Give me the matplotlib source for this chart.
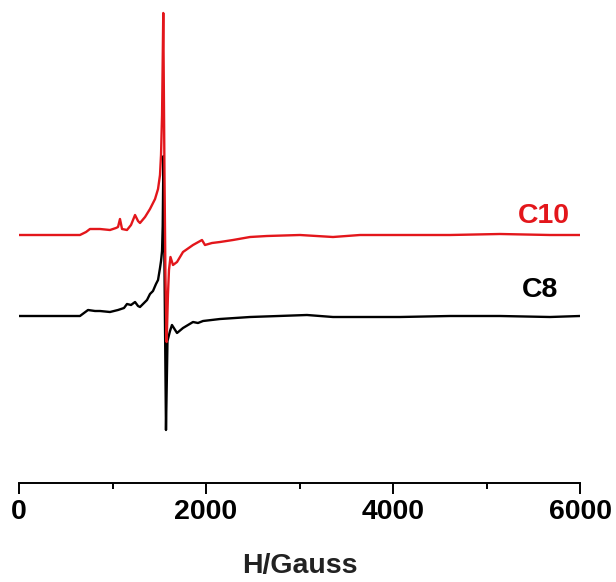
import matplotlib
matplotlib.use("Agg")
import matplotlib.pyplot as plt
import numpy as np

# EPR spectra, field in Gauss, intensity in arbitrary units (baseline = 0)
campo_c10 = [11, 332, 652, 717, 759, 866, 973, 1037, 1059, 1080, 1102, 1155, 1198,
             1241, 1273, 1294, 1348, 1401, 1455, 1487, 1508, 1519, 1530, 1543, 1556,
             1566, 1579, 1593, 1604, 1620, 1647, 1690, 1754, 1861, 1957, 1989, 2064,
             2150, 2289, 2471, 2652, 3005, 3358, 3647, 4075, 4610, 5144, 5679, 6000]
sinal_c10 = [0, 0, 0, 3, 6, 6, 5, 7, 8, 16, 6, 5, 10,
             20, 14, 12, 18, 26, 36, 46, 60, 80, 120, 222, 60,
             -40, -107, -60, -35, -22, -30, -27, -17, -10, -5, -10, -8,
             -7, -5, -2, -1, 0, -2, 0, 0, 0, 1, 0, 0]

campo_c8 = [11, 332, 652, 738, 813, 866, 973, 1059, 1123, 1155, 1198, 1241, 1273,
            1294, 1337, 1369, 1401, 1433, 1465, 1487, 1508, 1519, 1530, 1537, 1545,
            1572, 1588, 1615, 1636, 1690, 1754, 1861, 1914, 1968, 2150, 2471, 3080,
            3358, 4075, 4610, 5144, 5679, 6000]
sinal_c8 = [0, 0, 0, 6, 5, 5, 4, 6, 8, 12, 11, 14, 10,
            9, 13, 16, 22, 25, 32, 36, 48, 55, 65, 90, 160,
            -114, -25, -15, -9, -17, -12, -6, -7, -5, -3, -1, 1,
            -1, -1, 0, 0, -1, 0]

deslocamento_c10 = 81
rotulos = ["C10", "C8"]

vermelho = "#e3161b"
fonte = ["Liberation Sans", "DejaVu Sans"]

fig = plt.figure(figsize=(6.16, 5.82), dpi=100)
ax = fig.add_axes([19 / 616, 99 / 582, 561 / 616, 483 / 582])

ax.plot(campo_c8, sinal_c8, color="black", linewidth=1.7)
ax.plot(campo_c10, np.array(sinal_c10) + deslocamento_c10, color=vermelho, linewidth=1.7)

ax.set_xlim(0, 6000)
ax.set_ylim(-167, 316)

for lado in ["top", "left", "right"]:
    ax.spines[lado].set_visible(False)
ax.spines["bottom"].set_linewidth(1.4)
ax.set_yticks([])
ax.set_xticks([0, 2000, 4000, 6000])
ax.set_xticks([1000, 3000, 5000], minor=True)
ax.tick_params(axis="x", which="major", direction="out", length=8, width=1.4, pad=3.5)
ax.tick_params(axis="x", which="minor", direction="out", length=4.5, width=1.4)
for rot in ax.get_xticklabels():
    rot.set_family(fonte)
    rot.set_fontweight("bold")
    rot.set_fontsize(20.5)

ax.text(5893, deslocamento_c10 + 19, rotulos[0], color=vermelho, fontsize=20.5,
        fontweight="bold", family=fonte, ha="right", va="center")
ax.text(5770, 26, rotulos[1], color="black", fontsize=20.5,
        fontweight="bold", family=fonte, ha="right", va="center")

fig.text(300 / 616, 1 - 566 / 582, "H/Gauss", fontsize=20.5, fontweight="bold",
         family=fonte, color="#222222", ha="center", va="center")

fig.savefig("out.png", dpi=100)
